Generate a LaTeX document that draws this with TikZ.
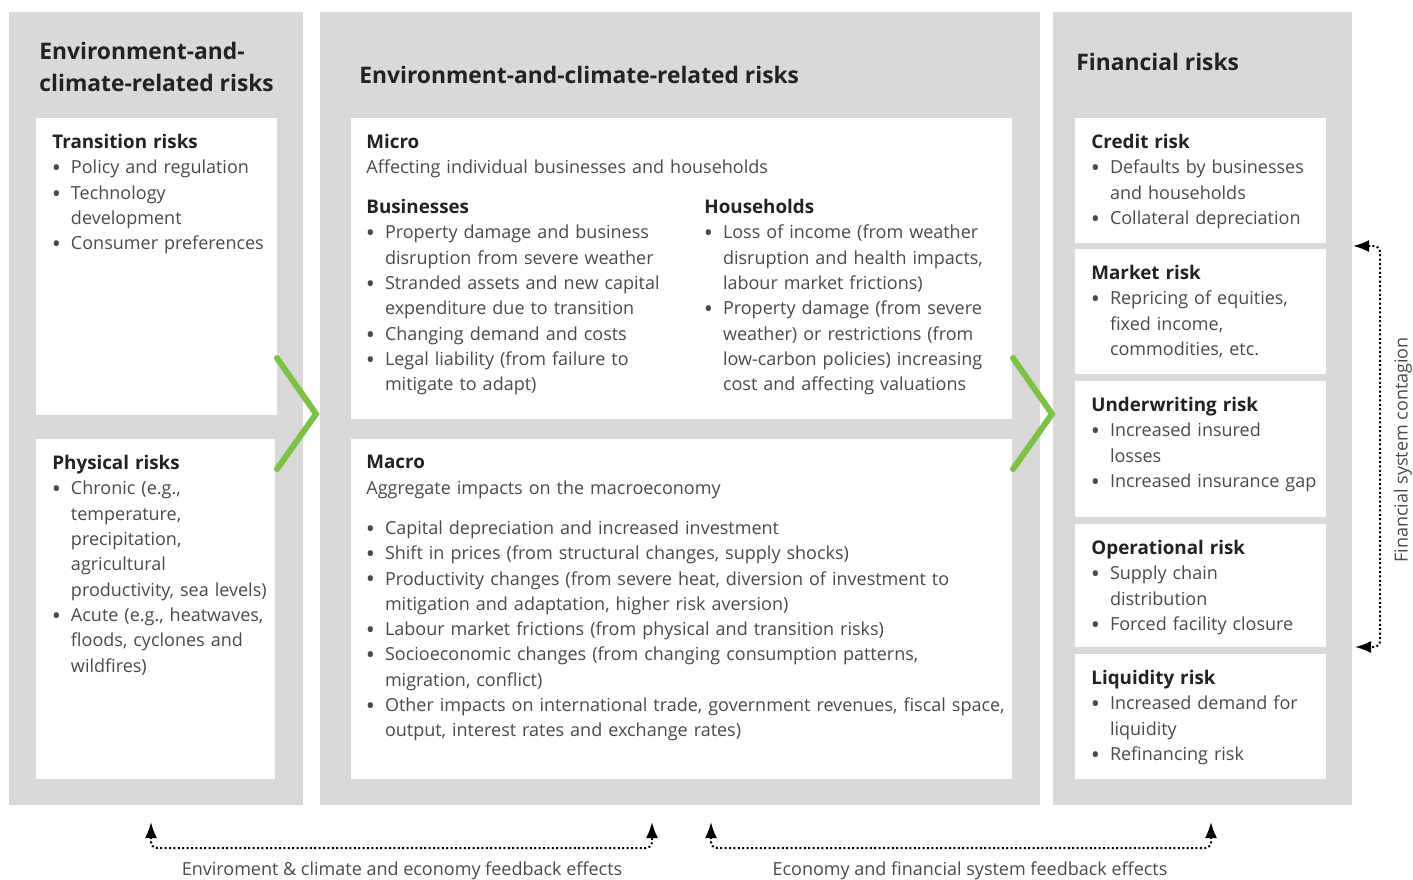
\documentclass[tikz,border=0pt]{standalone}
\usepackage{fontspec}
\setmainfont{Open Sans}
\usepackage{graphicx}
\usepackage{enumitem}
\usetikzlibrary{positioning,arrows.meta}

\definecolor{panelgray}{HTML}{D9D9D9}
\definecolor{chevgreen}{HTML}{7DC242}
\definecolor{bodygray}{HTML}{4A4A4A}
\definecolor{headblack}{HTML}{222222}
\setlist[itemize]{label=\raisebox{-0.3ex}{\scalebox{1.35}{\textbullet}}, leftmargin=9.3pt, labelsep=5pt,
  itemsep=0pt, parsep=0pt, topsep=0pt, partopsep=0pt}
\newcommand\hd[1]{{\fontsize{9.4}{12.65}\selectfont\bfseries\color{headblack}#1}}

\begin{document}
\begin{tikzpicture}[x=0.5pt, y=-0.5pt,
  panel/.style={fill=panelgray, inner sep=0pt, anchor=north west},
  card/.style={fill=white, inner sep=0pt, anchor=north west},
  dims/.style 2 args={minimum width=#1*0.5pt, minimum height=#2*0.5pt},
  txt/.style={inner sep=0pt, anchor=north west, align=left, text=bodygray,
    text width=#1*0.5pt, font=\fontsize{9}{12.65}\selectfont},
  txt/.default=235,
  title/.style={inner sep=0pt, anchor=base west, align=left, text=headblack,
    font=\fontsize{11.4}{16}\selectfont\bfseries},
  chevron/.style={draw=chevgreen, line width=3pt, line cap=round, line join=miter},
  loop/.style={line width=1pt, dash pattern=on 1pt off 1.2pt, rounded corners=3pt,
    {Latex[length=8pt,width=6pt]}-{Latex[length=8pt,width=6pt]}},
  note/.style={inner sep=0pt, text=bodygray, font=\fontsize{9}{11}\selectfont}]

  \useasboundingbox (0,0) rectangle (1413,879);

  % panels
  \node[panel, dims={294}{793}] (envpanel) at (9,12) {};
  \node[panel, dims={720}{793}] (ecopanel) at (320,12) {};
  \node[panel, dims={299}{793}] (finpanel) at (1053,12) {};

  \node[title, anchor=north west] (envtitle) at (39,42) {Environment-and-\\climate-related risks};
  \node[title] (ecotitle) at (359,83) {Environment-and-climate-related risks};
  \node[title] (fintitle) at (1076,70) {Financial risks};

  % cards
  \node[card, dims={241}{297}] (trans) at (36,118) {};
  \node[card, dims={239}{340}] (phys) at (36,439) {};
  \node[card, dims={661}{301}] (micro) at (351,118) {};
  \node[card, dims={661}{340}] (macro) at (351,439) {};
  \node[card, dims={251}{125}] (credit) at (1075,118) {};
  \node[card, dims={251}{125}] (market) at (1075,249) {};
  \node[card, dims={251}{136}] (under) at (1075,381) {};
  \node[card, dims={251}{123}] (oper) at (1075,524) {};
  \node[card, dims={251}{125}] (liq) at (1075,654) {};

  % left column
  \node[txt=232] (transtxt) at ([shift={(16,16)}]trans.north west) {\hd{Transition risks}
    \begin{itemize}
      \item Policy and regulation
      \item Technology\\development
      \item Consumer preferences
    \end{itemize}};
  \node[txt=232] (phystxt) at ([shift={(16,16)}]phys.north west) {\hd{Physical risks}
    \begin{itemize}
      \item Chronic (e.g.,\\temperature,\\precipitation,\\agricultural\\productivity, sea levels)
      \item Acute (e.g., heatwaves,\\floods, cyclones and\\wildfires)
    \end{itemize}};

  % middle column
  \node[txt=640] (microtxt) at ([shift={(15,16)}]micro.north west)
    {\hd{Micro}\\Affecting individual businesses and households};
  \node[txt=330] (biztxt) at ([shift={(15,81)}]micro.north west) {\hd{Businesses}
    \begin{itemize}
      \item Property damage and business\\disruption from severe weather
      \item Stranded assets and new capital\\expenditure due to transition
      \item Changing demand and costs
      \item Legal liability (from failure to\\mitigate to adapt)
    \end{itemize}};
  \node[txt=300] (hhtxt) at ([shift={(353,81)}]micro.north west) {\hd{Households}
    \begin{itemize}
      \item Loss of income (from weather\\disruption and health impacts,\\labour market frictions)
      \item Property damage (from severe\\weather) or restrictions (from\\low-carbon policies) increasing\\cost and affecting valuations
    \end{itemize}};
  \node[txt=650] (macrotxt) at ([shift={(15,16)}]macro.north west)
    {\hd{Macro}\\Aggregate impacts on the macroeconomy\par\vspace{7.5pt}
    \begin{itemize}
      \item Capital depreciation and increased investment
      \item Shift in prices (from structural changes, supply shocks)
      \item Productivity changes (from severe heat, diversion of investment to\\mitigation and adaptation, higher risk aversion)
      \item Labour market frictions (from physical and transition risks)
      \item Socioeconomic changes (from changing consumption patterns,\\migration, conflict)
      \item Other impacts on international trade, government revenues, fiscal space,\\output, interest rates and exchange rates)
    \end{itemize}};

  % right column
  \node[txt] (credittxt) at ([shift={(16,16)}]credit.north west) {\hd{Credit risk}
    \begin{itemize}
      \item Defaults by businesses\\and households
      \item Collateral depreciation
    \end{itemize}};
  \node[txt] (markettxt) at ([shift={(16,16)}]market.north west) {\hd{Market risk}
    \begin{itemize}
      \item Repricing of equities,\\fixed income,\\commodities, etc.
    \end{itemize}};
  \node[txt] (undertxt) at ([shift={(16,16)}]under.north west) {\hd{Underwriting risk}
    \begin{itemize}
      \item Increased insured\\losses
      \item Increased insurance gap
    \end{itemize}};
  \node[txt] (opertxt) at ([shift={(16,16)}]oper.north west) {\hd{Operational risk}
    \begin{itemize}
      \item Supply chain\\distribution
      \item Forced facility closure
    \end{itemize}};
  \node[txt] (liqtxt) at ([shift={(16,16)}]liq.north west) {\hd{Liquidity risk}
    \begin{itemize}
      \item Increased demand for\\liquidity
      \item Refinancing risk
    \end{itemize}};

  % chevrons
  \draw[chevron] (277,358) -- (316,414) -- (277,469);
  \draw[chevron] (1013,358) -- (1052,414) -- (1013,469);

  % contagion
  \coordinate (conttop) at (1353,246);
  \coordinate (contbot) at (1355,647);
  \draw[loop] (conttop) -| (1380,447) |- (contbot);
  \node[note, rotate=90] (contlbl) at (1403,450) {Financial system contagion};

  % feedback loops
  \coordinate (fbA) at (151,822);
  \coordinate (fbB) at (652,822);
  \coordinate (fbC) at (711,822);
  \coordinate (fbD) at (1211,822);
  \draw[loop] (fbA) -- ++(0,26) -| (fbB);
  \draw[loop] (fbC) -- ++(0,26) -| (fbD);
  \node[note, anchor=base] (fbAB) at (402,875) {Enviroment \& climate and economy feedback effects};
  \node[note, anchor=base] (fbCD) at (970,875) {Economy and financial system feedback effects};

\end{tikzpicture}
\end{document}
